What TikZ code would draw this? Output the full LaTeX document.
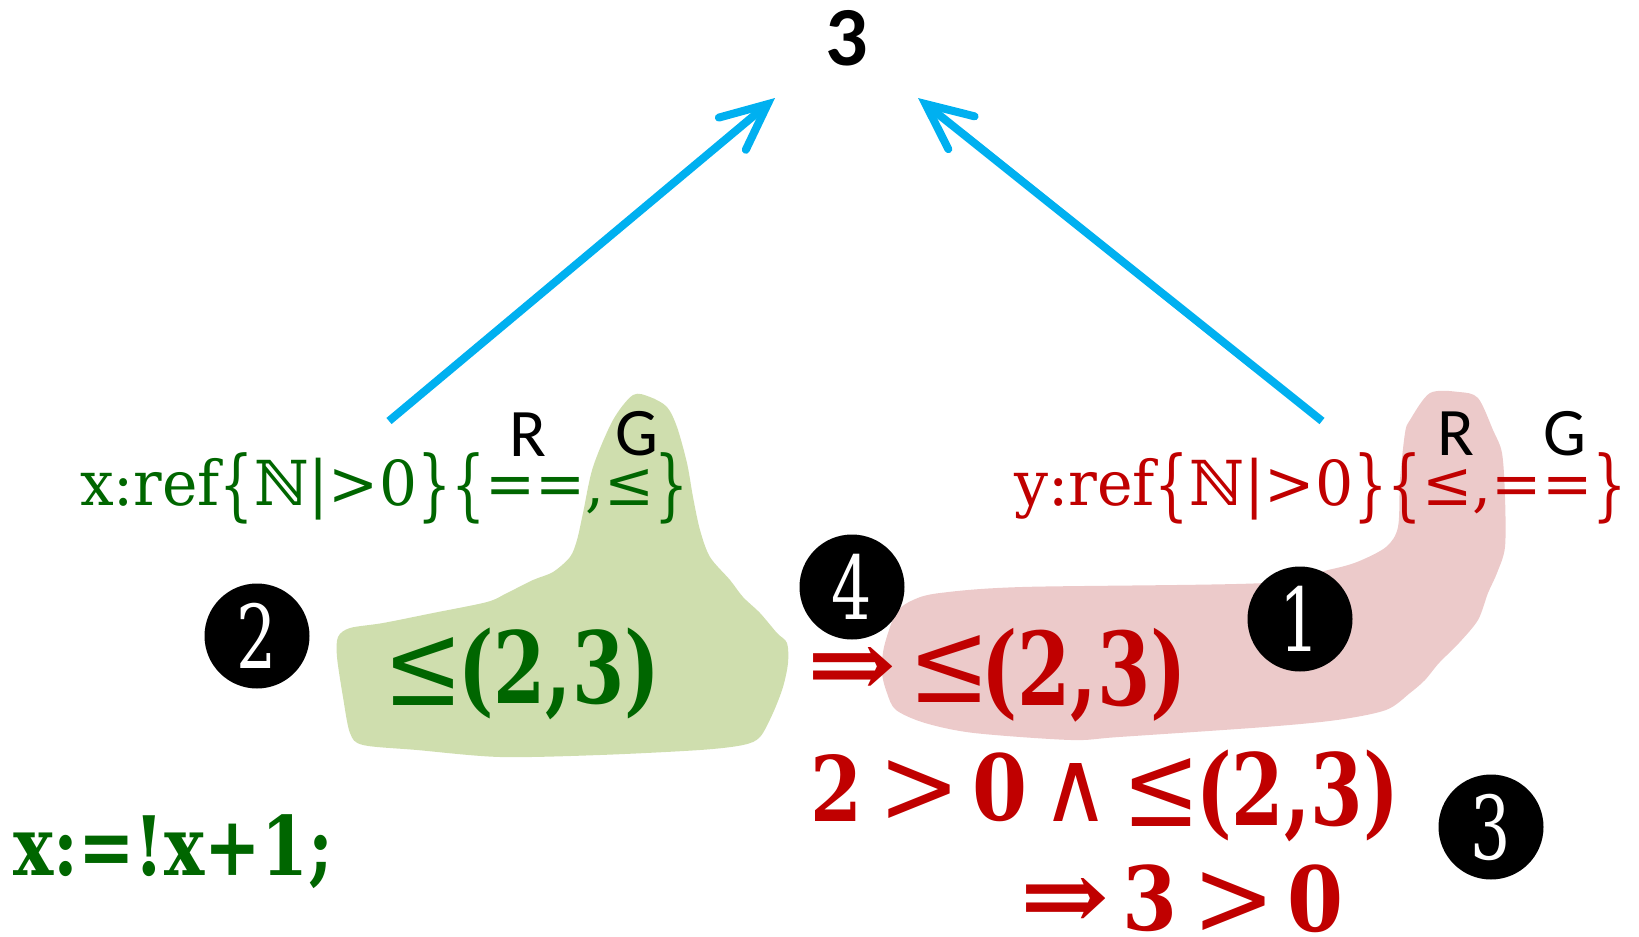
\documentclass[tikz,border=0pt]{standalone}
\usepackage{fontspec}
\usepackage{graphicx}
\setmainfont{DejaVu Serif}
\newfontfamily\calfont{Carlito}
\usetikzlibrary{arrows.meta}
\definecolor{dgreen}{RGB}{0,102,0}
\definecolor{dred}{RGB}{192,0,0}
\definecolor{arrowblue}{RGB}{0,176,240}
\definecolor{blobgreen}{RGB}{207,222,174}
\definecolor{blobred}{RGB}{236,202,202}
\newcommand\fitw[2]{\resizebox{#1}{\height}{#2}}
\newcommand\tk[3]{\resizebox*{#1pt}{#2pt}{#3}}
\newcommand\bopen{\raisebox{-6pt}{\scalebox{0.9}[1.25]{\{}}}
\newcommand\bclose{\raisebox{-6pt}{\scalebox{0.9}[1.25]{\}}}}
\begin{document}
\begin{tikzpicture}[x=1pt,y=-1pt,
  txt/.style={inner sep=0pt, outer sep=0pt, anchor=base west},
  tok/.style={inner sep=0pt, outer sep=0pt, anchor=south west, font=\fontsize{80}{80}\selectfont},
  btok/.style={tok, font=\bfseries\fontsize{80}{80}\selectfont},
  lbl/.style={inner sep=0pt, anchor=base, font=\calfont\fontsize{68}{70}\selectfont},
  badge/.style={circle, fill=black, minimum size=105pt, inner sep=0pt, text=white,
    font=\fontsize{88}{90}\selectfont},
  conn/.style={arrowblue, line width=8pt,
    -{Straight Barb[length=46pt, width=42pt, line cap=round, line join=miter]}}
]
\useasboundingbox (0,0) rectangle (1639,937);

% highlight blobs
\fill[blobgreen] plot[smooth cycle, tension=0.5] coordinates {
(633,395) (650,397) (667,407) (677,427) (687,463) (693,497) (700,530) (710,557)
(730,580) (743,597) (760,613) (777,633) (787,643) (788,663) (783,687) (773,713)
(760,737) (743,745) (700,750) (600,755) (500,757) (417,750) (363,745) (350,733)
(343,697) (337,657) (338,637) (350,628) (383,623) (433,613) (487,602) (507,593)
(533,580) (553,572) (570,557) (577,540) (583,513) (593,467) (613,420)};
\fill[blobred] plot[smooth cycle, tension=0.5] coordinates {
(1430,393) (1459,392) (1478,398) (1493,430) (1502,453) (1505,497) (1505,547)
(1497,573) (1488,593) (1478,620) (1459,643) (1439,663) (1425,680) (1410,693)
(1386,710) (1337,720) (1265,727) (1119,737) (1071,740) (974,733) (925,723)
(896,710) (887,693) (882,673) (884,647) (896,613) (913,600) (940,593) (1022,587)
(1265,583) (1328,570) (1357,562) (1386,547) (1398,527) (1400,480) (1405,433)
(1410,420)};

% top value
\node[inner sep=0pt, anchor=base, font=\calfont\bfseries\fontsize{84}{86}\selectfont] (top) at (847,65) {3};

% reference declarations
\node[txt, text=dgreen, font=\fontsize{62}{70}\selectfont] (xref) at (80,505)
  {\fitw{609pt}{x:ref\bopen ℕ|>0\bclose\bopen ==,≤\bclose}};
\node[txt, text=dred, font=\fontsize{62}{70}\selectfont] (yref) at (1014,505)
  {\fitw{613pt}{y:ref\bopen ℕ|>0\bclose\bopen ≤,==\bclose}};
\node[lbl] (xR) at (528,456) {R};
\node[lbl] (xG) at (637,455) {G};
\node[lbl] (yR) at (1456,455) {R};
\node[lbl] (yG) at (1565,455) {G};

% green formula
\node[tok, text=dgreen] (g1) at (383,705) {\tk{80}{68}{≤}};
\node[btok, text=dgreen] (g2) at (458,720) {\tk{202}{92}{(2,3)}};
% red formula
\node[btok, text=dred] (r0) at (807,697) {\tk{89}{50}{⇒}};
\node[tok, text=dred] (r1) at (908,702) {\tk{82}{67}{≤}};
\node[btok, text=dred] (r2) at (981,722) {\tk{206}{94}{(2,3)}};
% conjunction line
\node[btok, text=dred] (c1) at (810,821) {\tk{52}{67}{2}};
\node[tok, text=dred] (c2) at (878,823) {\tk{82}{63}{>}};
\node[btok, text=dred] (c3) at (972,822) {\tk{55}{69}{0}};
\node[tok, text=dred] (c4) at (1041,821) {\tk{69}{58}{∧}};
\node[tok, text=dred] (c5) at (1122,826) {\tk{78}{68}{≤}};
\node[btok, text=dred] (c6) at (1196,842) {\tk{203}{92}{(2,3)}};
% implication line
\node[btok, text=dred] (i1) at (1020,930) {\tk{89}{52}{⇒}};
\node[btok, text=dred] (i2) at (1122,932) {\tk{55}{67}{3}};
\node[tok, text=dred] (i3) at (1192,935) {\tk{83}{63}{>}};
\node[btok, text=dred] (i4) at (1287,933) {\tk{56}{68}{0}};

% assignment
\node[txt, text=dgreen, font=\bfseries\fontsize{82}{86}\selectfont] (assign) at (13,875)
  {\fitw{320pt}{x:=!x+1;}};

% connectors
\coordinate (ls) at (389,421);
\coordinate (lt) at (775,98);
\coordinate (rs) at (1322,421);
\coordinate (rt) at (918,98);
\draw[conn] (ls) -- (lt);
\draw[conn] (rs) -- (rt);

% badges
\node[badge] (b2) at (257,636) {\scalebox{0.72}[1]{2}};
\node[badge] (b4) at (852,587) {\scalebox{0.72}[1]{4}};
\node[badge] (b1) at (1300,619) {\scalebox{0.72}[1]{1}};
\node[badge] (b3) at (1491,827) {\scalebox{0.72}[1]{3}};
\end{tikzpicture}
\end{document}
